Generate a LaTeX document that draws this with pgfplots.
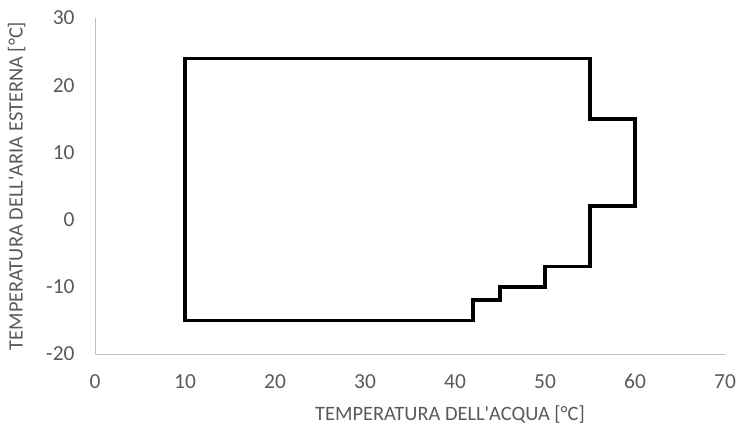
\documentclass[border=0pt]{standalone}
\usepackage{fontspec}
\setmainfont{Carlito}
\usepackage{pgfplots}
\pgfplotsset{compat=1.18}
\definecolor{txt}{HTML}{595959}
\definecolor{axl}{HTML}{BFBFBF}
\begin{document}
\begin{tikzpicture}
\begin{axis}[
  scale only axis, width=630bp, height=336bp,
  xmin=0, xmax=70, ymin=-20, ymax=30,
  xtick={0,10,...,70}, ytick={-20,-10,...,30},
  axis x line=bottom, axis y line=left,
  axis line style={axl, line width=1bp, -},
  major tick length=0pt,
  tick label style={txt, font=\fontsize{21.5}{24}\selectfont},
  /pgf/number format/assume math mode=true,
  xticklabel style={yshift=-17bp},
  yticklabel style={xshift=-17bp},
  xlabel={TEMPERATURA DELL\textquotesingle ACQUA [°C]},
  ylabel={TEMPERATURA DELL\textquotesingle ARIA ESTERNA [°C]},
  label style={txt, font=\fontsize{20.5}{24}\selectfont},
  xlabel style={at={(axis description cs:0.5,0)}, anchor=north, yshift=-48bp, xshift=40bp},
  ylabel style={at={(axis description cs:0,0.5)}, anchor=south, yshift=66bp},
  clip=false,
]
\coordinate (sw) at (rel axis cs:0,0);
\coordinate (ne) at (rel axis cs:1,1);
\addplot[black, line width=3.6bp, line join=miter] coordinates {
 (10,24) (55,24) (55,15) (60,15) (60,2) (55,2) (55,-7) (50,-7) (50,-10)
 (45,-10) (45,-12) (42,-12) (42,-15) (10,-15) (10,24)
} -- cycle;
\end{axis}
\pgfresetboundingbox
\path[use as bounding box] (sw) ++(-95bp,-78bp) rectangle ([shift={(12bp,18bp)}]ne);
\end{tikzpicture}
\end{document}
